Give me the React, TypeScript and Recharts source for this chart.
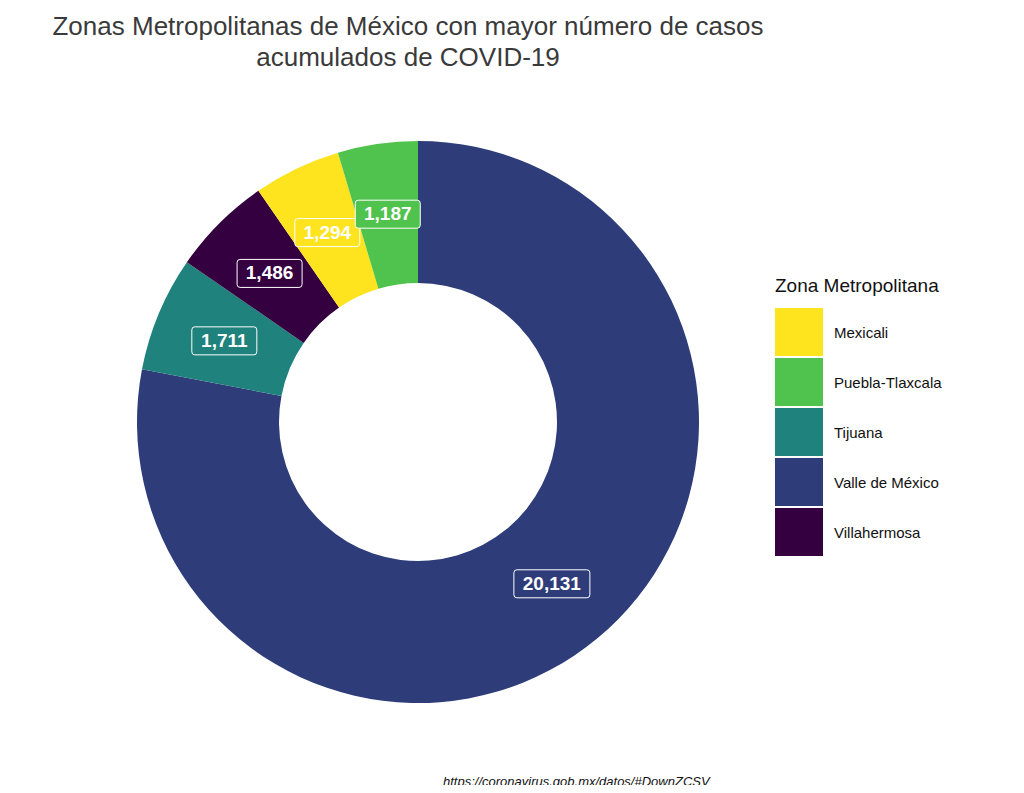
import { PieChart, Pie, Cell } from "recharts";

const zonas = ["Valle de México", "Tijuana", "Villahermosa", "Mexicali", "Puebla-Tlaxcala"];
const casos = [20131, 1711, 1486, 1294, 1187];
const colores = ["#2E3D79", "#1F827C", "#35003F", "#FDE41F", "#50C24E"];
const leyenda = ["Mexicali", "Puebla-Tlaxcala", "Tijuana", "Valle de México", "Villahermosa"];

const data = zonas.map((z, i) => ({ name: z, value: casos[i] }));
const RADIAN = Math.PI / 180;

const renderLabel = (p: any) => {
  const r = (p.innerRadius + p.outerRadius) / 2;
  const x = p.cx + r * Math.cos(-p.midAngle * RADIAN);
  const y = p.cy + r * Math.sin(-p.midAngle * RADIAN);
  const txt = p.value.toLocaleString("en-US");
  const w = txt.length * 11 + 10;
  const idx = zonas.indexOf(p.name);
  return (
    <g>
      <rect x={x - w / 2} y={y - 14} width={w} height={28} rx={3} fill={colores[idx]} stroke="#fff" strokeWidth={1} />
      <text x={x} y={y + 1} fill="#fff" fontSize={19} fontWeight="bold" textAnchor="middle" dominantBaseline="middle" fontFamily="Liberation Sans, Arial, sans-serif">
        {txt}
      </text>
    </g>
  );
};

export default function App() {
  const font = "Liberation Sans, Arial, sans-serif";
  return (
    <div style={{ position: "relative", width: 1008, height: 777, fontFamily: font, background: "#fff" }}>
      <div style={{ position: "absolute", left: 0, width: 800, top: 3, textAlign: "center", fontSize: 26, lineHeight: "31px", color: "#3a3a3a" }}>
        Zonas Metropolitanas de México con mayor número de casos
        <br />
        acumulados de COVID-19
      </div>
      <PieChart width={1008} height={777}>
        <Pie
          data={data}
          dataKey="value"
          cx={405}
          cy={409}
          innerRadius={139}
          outerRadius={281}
          startAngle={90}
          endAngle={-270}
          stroke="none"
          label={renderLabel}
          labelLine={false}
          isAnimationActive={false}
        >
          {data.map((d, i) => (
            <Cell key={d.name} fill={colores[i]} />
          ))}
        </Pie>
      </PieChart>
      <div style={{ position: "absolute", left: 767, top: 267, color: "#111" }}>
        <div style={{ fontSize: 19, marginBottom: 10 }}>Zona Metropolitana</div>
        {leyenda.map((l) => (
          <div key={l} style={{ display: "flex", alignItems: "center", height: 50 }}>
            <div style={{ width: 48, height: 48, background: colores[zonas.indexOf(l)] }} />
            <span style={{ marginLeft: 11, fontSize: 15 }}>{l}</span>
          </div>
        ))}
      </div>
      <div style={{ position: "absolute", left: 435, top: 766, fontSize: 13, fontStyle: "italic", color: "#111" }}>
        https://coronavirus.gob.mx/datos/#DownZCSV
      </div>
    </div>
  );
}
